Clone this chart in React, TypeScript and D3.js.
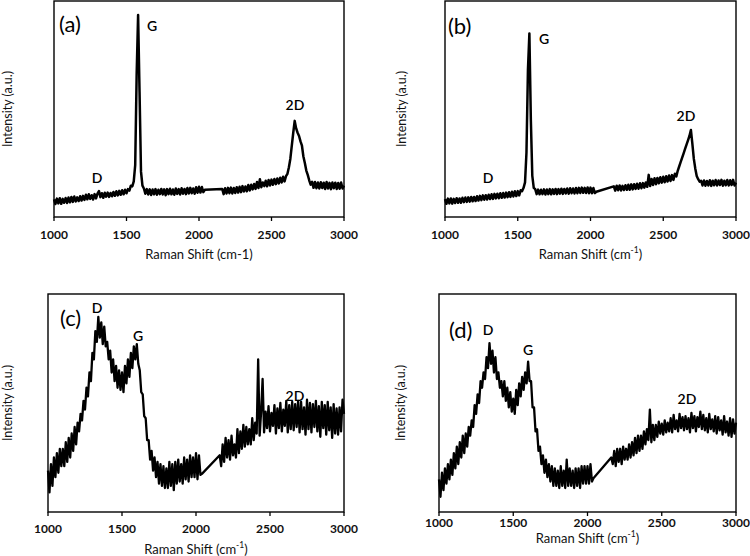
import React from 'react';
import * as d3 from 'd3';

// Raman shift sampling (cm-1); spectra have a gap between 2040 and 2160 bridged by a straight line
const shifts: number[] = [...d3.range(1000, 2041, 10), ...d3.range(2160, 3001, 10)];
const tickValues = [1000, 1500, 2000, 2500, 3000];
const panelLetters = ['(a)', '(b)', '(c)', '(d)'];
const peakNames = ['D', 'G', '2D'];
const yTitle = 'Intensity (a.u.)';
const xTitle = 'Raman Shift (cm';

// Intensities (a.u., 0-100 of the panel height)
const spectrumA = [
  8.2, 6.0, 8.5, 6.3, 8.7, 6.1, 8.4, 6.6, 8.8, 6.5,
  9.0, 6.8, 9.3, 7.0, 9.5, 7.2, 9.1, 7.4, 9.6, 7.6,
  9.8, 7.9, 10.3, 8.2, 10.5, 8.4, 10.1, 8.1, 10.6, 8.6,
  10.8, 12.0, 9.2, 11.0, 8.9, 11.2, 9.4, 11.3, 9.3, 11.1,
  9.6, 11.6, 9.8, 11.9, 10.0, 12.1, 10.3, 12.4, 10.5, 12.6,
  11.0, 12.9, 12.2, 14.5, 14.2, 16.5, 24.0, 66.0, 93.5, 58.0,
  21.0, 14.5, 13.2, 10.8, 12.9, 10.4, 12.8, 10.2, 12.7, 10.5,
  12.9, 10.3, 12.6, 10.6, 13.0, 10.4, 12.8, 10.1, 12.9, 10.6,
  13.1, 10.5, 12.7, 10.3, 13.2, 10.7, 12.9, 10.4, 13.3, 10.8,
  13.0, 10.6, 13.4, 10.9, 13.5, 11.0, 13.2, 10.8, 13.8, 11.2,
  14.0, 11.3, 13.9, 11.5, 12.6,
  13.0, 10.6, 13.3, 10.9, 13.5, 11.0, 13.6, 10.9, 13.4, 11.1,
  13.8, 11.3, 14.0, 11.5, 14.3, 11.8, 14.1, 11.9, 14.8, 12.3,
  14.9, 12.8, 15.3, 13.0, 16.2, 13.4, 17.5, 13.8, 16.0, 14.3,
  16.8, 14.2, 17.1, 14.6, 17.3, 14.9, 17.6, 15.2, 17.8, 15.5,
  18.2, 16.0, 18.6, 16.5, 18.9, 20.0, 23.0, 27.0, 33.0, 39.0,
  44.5, 41.0, 39.0, 37.5, 35.0, 33.0, 28.0, 25.0, 21.5, 19.5,
  17.0, 15.0, 16.3, 13.5, 16.2, 13.3, 16.0, 13.2, 16.1, 13.4,
  15.9, 13.0, 16.2, 13.2, 15.8, 12.9, 16.0, 13.3, 15.9, 13.0,
  15.7, 13.1, 16.0, 13.2, 14.5,
];

const spectrumB = [
  8.3, 6.1, 8.5, 6.3, 8.6, 6.2, 8.4, 6.5, 8.7, 6.6,
  8.6, 6.6, 8.9, 6.9, 9.0, 7.0, 9.1, 7.1, 9.3, 7.3,
  9.3, 7.4, 9.6, 7.6, 9.8, 7.8, 10.0, 8.0, 10.1, 8.1,
  10.3, 8.3, 10.5, 8.4, 10.7, 8.6, 10.8, 8.7, 11.0, 8.9,
  11.1, 9.0, 11.3, 9.2, 11.5, 9.3, 11.7, 9.5, 11.9, 9.7,
  12.0, 10.0, 12.4, 12.0, 13.5, 16.0, 30.0, 68.0, 85.0, 45.0,
  19.0, 13.5, 12.9, 10.6, 12.7, 10.5, 12.6, 10.6, 12.8, 10.4,
  12.7, 10.6, 12.9, 10.5, 12.8, 10.7, 13.0, 10.6, 12.9, 10.8,
  13.1, 10.7, 13.0, 10.9, 13.2, 10.8, 13.3, 11.0, 13.2, 10.9,
  13.4, 11.0, 13.5, 11.1, 13.6, 11.2, 13.5, 11.1, 13.7, 11.0,
  13.6, 11.0, 13.4, 11.1, 11.7,
  14.2, 12.2, 14.5, 12.4, 14.6, 12.3, 14.4, 12.5, 14.7, 12.6,
  14.9, 12.6, 15.1, 12.8, 15.2, 13.0, 15.4, 13.1, 15.6, 13.3,
  15.7, 13.6, 16.0, 14.0, 19.5, 14.3, 17.6, 14.8, 17.9, 15.2,
  18.1, 15.6, 18.4, 15.9, 18.6, 16.1, 18.9, 16.4, 19.2, 16.7,
  19.4, 17.2, 20.0, 18.8, 21.5, 23.5, 25.5, 27.5, 29.5, 31.5,
  33.5, 35.5, 37.5, 40.3, 34.0, 27.0, 22.5, 19.0, 17.5, 16.4,
  16.8, 14.6, 16.9, 14.5, 16.7, 14.6, 17.0, 14.4, 16.8, 14.7,
  17.1, 14.6, 16.9, 14.8, 17.2, 14.5, 16.8, 14.7, 17.1, 14.6,
  17.0, 14.8, 17.2, 14.6, 15.9,
];

const spectrumC = [
  19, 9, 22, 12, 25, 16, 27, 18, 29, 21,
  29, 21, 32, 23, 34, 25, 36, 28, 39, 31,
  41, 37, 45, 42, 51, 47, 57, 53, 64, 60,
  73, 70, 83, 78, 89.5, 80, 87, 77, 85, 76,
  78, 70, 74, 64, 70, 60, 67, 57, 65, 56,
  64, 55, 67, 59, 70, 62, 73, 66, 76, 70,
  77, 68, 65, 55, 54, 44, 43, 33, 33, 24,
  28, 19, 25, 16, 23, 13, 22, 12, 21, 11,
  20, 11, 23, 12, 22, 10, 23, 13, 24, 14,
  22, 13, 25, 15, 24, 14, 26, 16, 25, 16,
  27, 15, 26, 17, 17.5,
  26, 21, 31, 23, 34, 25, 33, 24, 35, 26,
  31, 25, 38, 27, 37, 29, 40, 30, 39, 31,
  38, 31, 43, 33, 41, 36, 70, 35, 46, 61,
  36.5, 46.0, 38.5, 48.5, 37.0, 45.5, 39.5, 49.0, 36.0, 47.5,
  38.5, 50.0, 37.0, 47.0, 39.5, 51.0, 36.5, 49.0, 38.0, 50.5,
  37.5, 49.5, 39.0, 51.0, 36.5, 50.5, 38.0, 48.0, 35.5, 51.5,
  38.0, 50.0, 36.5, 49.5, 39.0, 51.0, 37.0, 48.5, 34.5, 50.5,
  38.5, 49.0, 35.5, 50.5, 37.5, 48.0, 34.0, 49.5, 36.0, 47.5,
  35.5, 48.0, 37.0, 51.5, 45.0,
];

const spectrumD = [
  15, 7, 18, 10, 20, 13, 22, 15, 24, 17,
  27, 20, 30, 22, 32, 25, 35, 27, 36, 30,
  39, 35, 42, 39, 49, 45, 54, 50, 60, 57,
  64, 61, 71, 66, 77.5, 68, 74, 64, 71, 61,
  64, 57, 60, 53, 60, 51, 57, 48, 55, 46,
  52, 45, 56, 49, 59, 53, 62, 56, 64, 59,
  69, 60, 60, 48, 48, 37, 38, 28, 30, 22,
  26, 18, 24, 16, 22, 14, 21, 12, 20, 12,
  19, 11, 21, 12, 19, 11, 24, 12, 20, 12,
  19, 11, 20, 12, 20, 11, 21, 13, 21, 13,
  21, 13, 22, 14, 15.5,
  25, 22, 28, 21, 29, 23, 29, 22, 30, 24,
  29, 24, 31, 25, 32, 26, 34, 27, 35, 28,
  35, 29, 37, 31, 38, 33, 47, 32, 40, 33,
  40.0, 34.5, 41.5, 36.0, 40.5, 35.5, 42.0, 36.5, 41.0, 37.0,
  43.0, 36.5, 44.5, 38.0, 42.0, 37.0, 45.0, 38.5, 43.5, 37.5,
  44.0, 38.0, 43.0, 36.5, 45.5, 38.5, 44.0, 37.0, 43.5, 39.0,
  46.0, 38.0, 44.5, 37.5, 43.0, 36.5, 45.0, 38.0, 42.5, 37.0,
  44.0, 36.0, 43.5, 37.5, 42.0, 35.5, 44.0, 36.5, 41.5, 35.0,
  43.0, 34.5, 42.5, 36.0, 41.0,
];

const spectra = [spectrumA, spectrumB, spectrumC, spectrumD];

const FONT = "Lato, 'Open Sans', sans-serif";

type Panel = {
  left: number; right: number; top: number; bottom: number;
  tickDy: number; titleDy: number; sup: boolean; yTitleX: number;
  label: [number, number];
  peaks: [number, number][]; // D, G, 2D positions
  strokeW: number;
};

const panels: Panel[] = [
  { left: 54, right: 344, top: 1, bottom: 217, tickDy: 17, titleDy: 37, sup: false, yTitleX: 7,
    label: [59, 23], peaks: [[97, 177], [152, 25], [295, 104]], strokeW: 2.5 },
  { left: 445, right: 736, top: 1, bottom: 217, tickDy: 17, titleDy: 37, sup: true, yTitleX: 401,
    label: [448, 25], peaks: [[488, 177], [544, 38], [686, 115]], strokeW: 2.5 },
  { left: 48, right: 344, top: 294, bottom: 512, tickDy: 16, titleDy: 37, sup: true, yTitleX: 7,
    label: [60, 317], peaks: [[97, 307], [138, 335], [295, 395]], strokeW: 2.3 },
  { left: 439, right: 736, top: 294, bottom: 512, tickDy: 10, titleDy: 26, sup: true, yTitleX: 400,
    label: [449, 329], peaks: [[488, 329], [528, 349], [687, 398]], strokeW: 2.3 },
];

function PanelView({ p, values, idx }: { p: Panel; values: number[]; idx: number }) {
  const x = d3.scaleLinear().domain([1000, 3000]).range([p.left, p.right]);
  const y = d3.scaleLinear().domain([0, 100]).range([p.bottom, p.top]);
  const pts: [number, number][] = shifts.map((s, i) => [s, values[i]]);
  const line = d3.line<[number, number]>().x(d => x(d[0])).y(d => y(d[1]));
  const cx = (p.left + p.right) / 2;
  const cy = (p.top + p.bottom) / 2;
  return (
    <g>
      <path d={line(pts) || ''} fill="none" stroke="#000" strokeWidth={p.strokeW} strokeLinejoin="round" />
      <rect x={p.left} y={p.top} width={p.right - p.left} height={p.bottom - p.top}
        fill="none" stroke="#000" strokeWidth={1.4} />
      {tickValues.map(t => (
        <g key={t}>
          <line x1={x(t)} x2={x(t)} y1={p.bottom} y2={p.bottom + 4} stroke="#000" strokeWidth={1.3} />
          <text x={x(t)} y={p.bottom + p.tickDy} textAnchor="middle" dominantBaseline="central"
            fontFamily={FONT} fontWeight={700} fontSize={12} fill="#111">{t}</text>
        </g>
      ))}
      <text x={cx} y={p.bottom + p.titleDy} textAnchor="middle" dominantBaseline="central"
        fontFamily={FONT} fontSize={13} fill="#111">
        {p.sup ? (
          <>
            {xTitle}
            <tspan fontSize={8.5} dy={-4}>-1</tspan>
            <tspan dy={4}>)</tspan>
          </>
        ) : (
          xTitle + '-1)'
        )}
      </text>
      <text transform={`translate(${p.yTitleX},${cy}) rotate(-90)`} textAnchor="middle"
        dominantBaseline="central" fontFamily={FONT} fontSize={12.5} fill="#111">{yTitle}</text>
      <text x={p.label[0]} y={p.label[1]} dominantBaseline="central" fontFamily={FONT}
        fontSize={22} fill="#000">{panelLetters[idx]}</text>
      {peakNames.map((n, i) => (
        <text key={n} x={p.peaks[i][0]} y={p.peaks[i][1]} textAnchor="middle" dominantBaseline="central"
          fontFamily={FONT} fontWeight={600} fontSize={14} fill="#000">{n}</text>
      ))}
    </g>
  );
}

export default function App() {
  return (
    <svg width={750} height={556} style={{ position: 'absolute', left: 0, top: 0, background: '#fff' }}>
      <rect width={750} height={556} fill="#fff" />
      {panels.map((p, i) => (
        <PanelView key={i} p={p} values={spectra[i]} idx={i} />
      ))}
    </svg>
  );
}
